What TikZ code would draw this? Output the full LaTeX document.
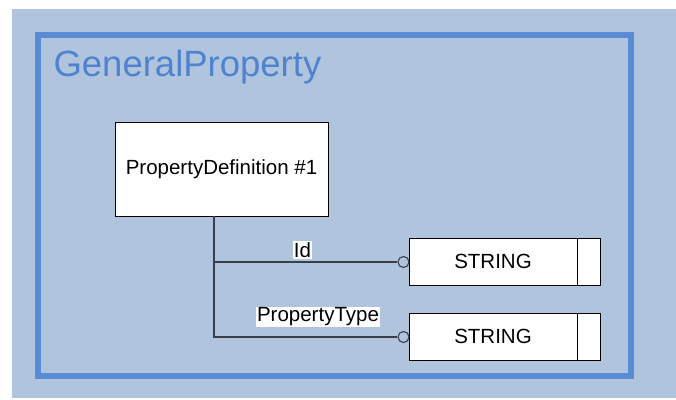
\documentclass[tikz,border=0pt]{standalone}
\usepackage{fontspec}
\setmainfont{Liberation Sans}
\usetikzlibrary{positioning}
\definecolor{gpSteel}{HTML}{B0C4DE}
\definecolor{gpFrame}{HTML}{5A8CD6}
\definecolor{gpTitle}{HTML}{4F83D0}
\definecolor{gpWire}{HTML}{3A3F47}
\begin{document}
\begin{tikzpicture}[x=1pt,y=-1pt,line join=miter]
\useasboundingbox (0,0) rectangle (676,399);
\path[fill=white] (0,0) rectangle (676,399);
\path[fill=gpSteel] (12,9) rectangle (676,398);
\tikzset{frame/.style={draw=gpFrame,line width=6pt},entity/.style={draw=black,fill=white,line width=0.9pt,inner sep=0pt,font=\fontsize{20.5}{24}\selectfont},cell/.style={entity,minimum height=47pt},wire/.style={draw=gpWire,line width=1.4pt},endring/.style={circle,draw=gpWire,fill=gpSteel,line width=1.1pt,minimum size=11pt,inner sep=0pt},tag/.style={fill=white,inner sep=1pt,font=\fontsize{20.5}{24}\selectfont}}
\draw[frame] (38,35) rectangle (631,376);
\node[anchor=base west,text=gpTitle,font=\fontsize{36.5}{42}\selectfont] (title) at (50,76) {GeneralProperty};
\node[entity,minimum width=213pt,minimum height=94pt] (propdef) at (221.5,169) {PropertyDefinition \#1};
\coordinate (trunk) at (214,216);
% attribute Id
\node[cell,minimum width=168pt] (idtype) at (493,261.5) {STRING};
\node[cell,minimum width=23pt,right=0pt of idtype] (idcap) {};
\node[endring] (idring) at (403.5,262) {};
\draw[wire] (trunk) |- (idring.west);
\node[tag] (idtag) at (302.5,250) {Id};
% attribute PropertyType
\node[cell,minimum width=168pt] (pttype) at (493,336.5) {STRING};
\node[cell,minimum width=23pt,right=0pt of pttype] (ptcap) {};
\node[endring] (ptring) at (403.5,337) {};
\draw[wire] (idring.west -| trunk) |- (ptring.west);
\node[tag] (pttag) at (318,317) {PropertyType};
\end{tikzpicture}
\end{document}
